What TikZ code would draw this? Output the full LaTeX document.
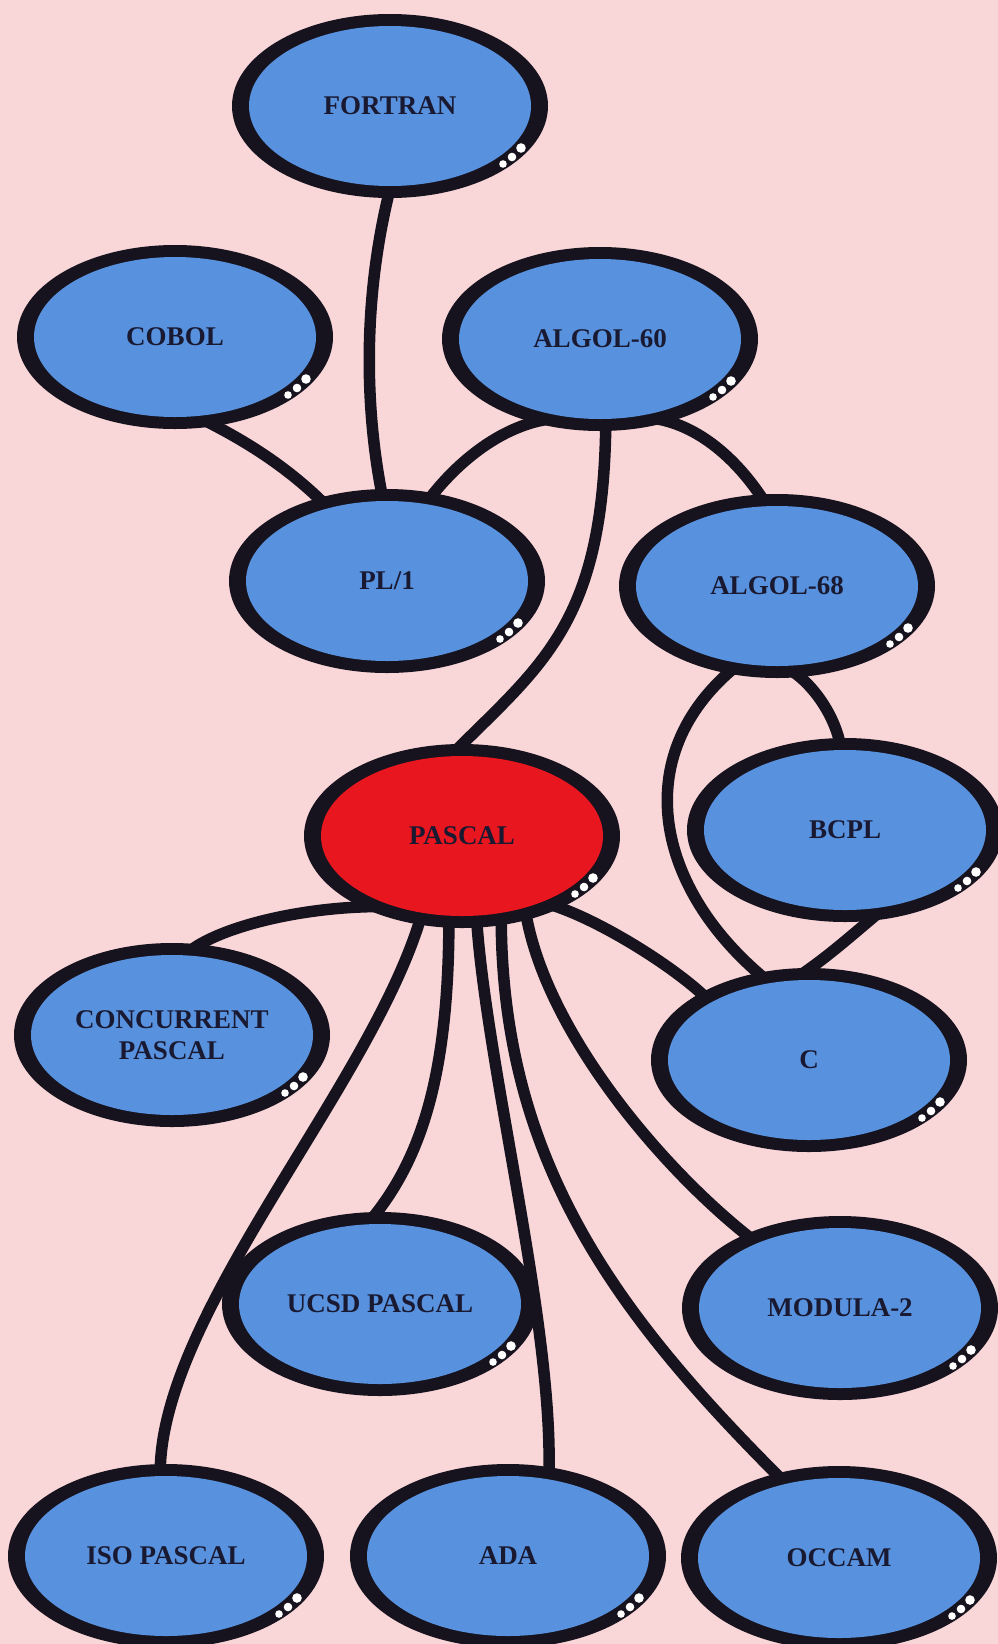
\documentclass[tikz,border=0pt]{standalone}
\usepackage{fontspec}
\setmainfont{Liberation Serif}
\usetikzlibrary{shapes.geometric,calc,backgrounds}
\definecolor{bgpink}{RGB}{249,214,216}
\definecolor{lblue}{RGB}{88,146,222}
\definecolor{pred}{RGB}{232,22,30}
\definecolor{rim}{RGB}{22,18,30}
\definecolor{ink}{RGB}{25,25,50}
\begin{document}
\begin{tikzpicture}[x=1pt,y=-1pt,
  lang/.style={ellipse, fill=rim, minimum width=316pt, minimum height=184pt, inner sep=0pt, outer sep=0pt,
    font=\fontsize{27}{31}\selectfont\bfseries, text=ink, align=center,
    path picture={\fill[#1] (path picture bounding box.center) ellipse (141pt and 80pt);}},
  lang/.default=lblue,
  link/.style={draw=rim, line width=11.5pt},
  dot/.style={fill=white}
]
\useasboundingbox (0,0) rectangle (998,1644);
\node[lang] (fortran) at (390,106) {FORTRAN};
\node[lang] (cobol) at (175,337) {COBOL};
\node[lang] (algolsixty) at (600,339) {ALGOL-60};
\node[lang] (plone) at (387,581) {PL/1};
\node[lang] (algoleight) at (777,586) {ALGOL-68};
\node[lang=pred] (pascal) at (462,836) {PASCAL};
\node[lang] (bcpl) at (845,830) {BCPL};
\node[lang] (concur) at (172,1035) {CONCURRENT\\PASCAL};
\node[lang] (cc) at (809,1060) {C};
\node[lang] (ucsd) at (380,1304) {UCSD PASCAL};
\node[lang] (modula) at (840,1308) {MODULA-2};
\node[lang] (iso) at (166,1556) {ISO PASCAL};
\node[lang] (ada) at (508,1556) {ADA};
\node[lang] (occam) at (839,1558) {OCCAM};
\foreach \n in {fortran,cobol,algolsixty,plone,algoleight,pascal,bcpl,concur,cc,ucsd,modula,iso,ada,occam}{
  \fill[dot] ($(\n)+(113,58)$) circle (3.8);
  \fill[dot] ($(\n)+(122,51)$) circle (4.3);
  \fill[dot] ($(\n)+(131,42)$) circle (4.8);
}
\begin{scope}[on background layer]
\fill[bgpink] (0,0) rectangle (998,1644);
\draw[link] ($(fortran.-90)!9pt!(fortran.center)$) .. controls +(-25,100) and +(-20,-100) .. ($(plone.93)!9pt!(plone.center)$);
\draw[link] ($(cobol.-72)!9pt!(cobol.center)$) .. controls +(40,20) and +(-40,-40) .. ($(plone.129)!9pt!(plone.center)$);
\draw[link] ($(algolsixty.-120)!9pt!(algolsixty.center)$) .. controls +(-50,5) and +(30,-40) .. ($(plone.63)!9pt!(plone.center)$);
\draw[link] ($(algolsixty.-58)!9pt!(algolsixty.center)$) .. controls +(50,5) and +(-25,-40) .. ($(algoleight.98)!9pt!(algoleight.center)$);
\draw[link] ($(algolsixty.-86)!9pt!(algolsixty.center)$) .. controls +(-2,200) and +(90,-90) .. ($(pascal.96)!9pt!(pascal.center)$);
\draw[link] ($(algoleight.-82)!9pt!(algoleight.center)$) .. controls +(25,15) and +(-5,-30) .. ($(bcpl.93)!9pt!(bcpl.center)$);
\draw[link] ($(algoleight.-117)!9pt!(algoleight.center)$) .. controls +(-110,90) and +(-110,-90) .. ($(cc.118)!9pt!(cc.center)$);
\draw[link] ($(bcpl.-66)!9pt!(bcpl.center)$) .. controls +(-30,25) and +(30,-20) .. ($(cc.98)!9pt!(cc.center)$);
\draw[link] ($(pascal.-139)!9pt!(pascal.center)$) .. controls +(-80,0) and +(30,-25) .. ($(concur.79)!9pt!(concur.center)$);
\draw[link] ($(pascal.-38)!9pt!(pascal.center)$) .. controls +(50,15) and +(-30,-30) .. ($(cc.149)!9pt!(cc.center)$);
\draw[link] ($(pascal.-117)!9pt!(pascal.center)$) .. controls +(-50,170) and +(0,-160) .. ($(iso.94)!9pt!(iso.center)$);
\draw[link] ($(pascal.-99)!9pt!(pascal.center)$) .. controls +(0,160) and +(50,-60) .. ($(ucsd.97)!9pt!(ucsd.center)$);
\draw[link] ($(pascal.-80)!9pt!(pascal.center)$) .. controls +(10,150) and +(5,-150) .. ($(ada.63)!9pt!(ada.center)$);
\draw[link] ($(pascal.-64)!9pt!(pascal.center)$) .. controls +(0,250) and +(-160,-160) .. ($(occam.126)!9pt!(occam.center)$);
\draw[link] ($(pascal.-50)!9pt!(pascal.center)$) .. controls +(20,120) and +(-90,-70) .. ($(modula.142)!9pt!(modula.center)$);
\end{scope}
\end{tikzpicture}
\end{document}
